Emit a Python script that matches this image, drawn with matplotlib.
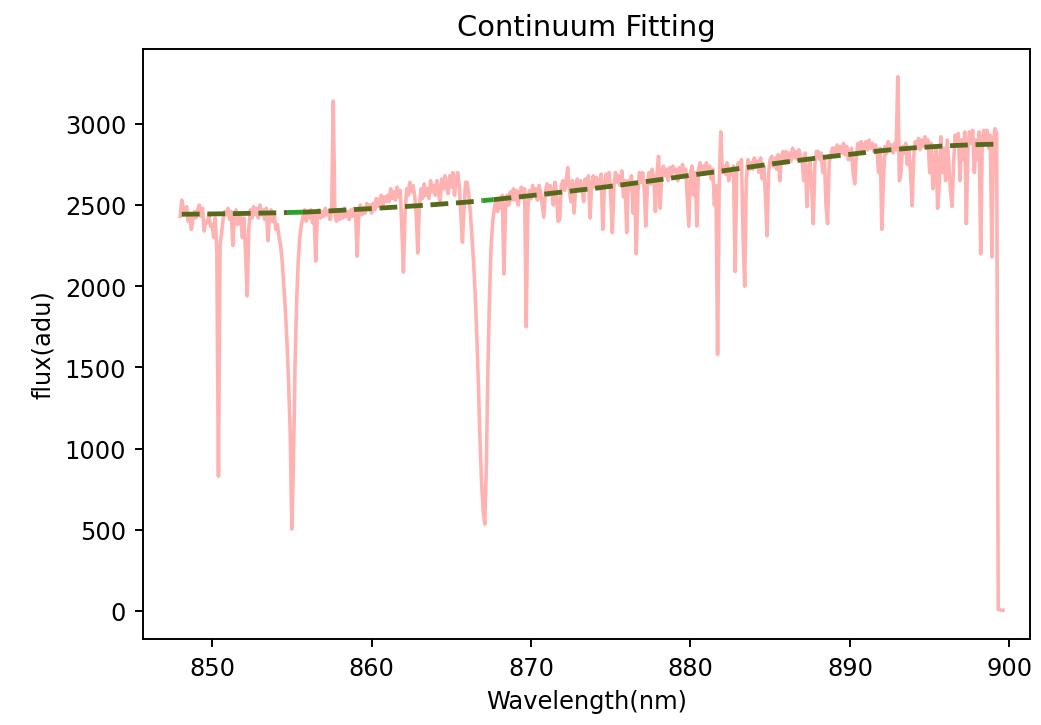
import numpy as np
import matplotlib
matplotlib.use("Agg")
import matplotlib.pyplot as plt

wl_start = 848.0
wl_step = 0.1
flux_rows = [
    [2430, 2530, 2470, 2450, 2490, 2400, 2445, 2350, 2410, 2460],  # 848
    [2420, 2470, 2500, 2430, 2480, 2340, 2400, 2390, 2440, 2370],  # 849
    [2380, 2300, 2420, 2200, 830, 2250, 2330, 2420, 2460, 2440],   # 850
    [2480, 2410, 2460, 2250, 2440, 2470, 2380, 2450, 2420, 2300],  # 851
    [2420, 2200, 1940, 2350, 2470, 2420, 2490, 2440, 2480, 2420],  # 852
    [2500, 2440, 2470, 2410, 2480, 2280, 2430, 2470, 2400, 2440],  # 853
    [2350, 2380, 2300, 2250, 2150, 2000, 1850, 1650, 1400, 1100],  # 854
    [505, 900, 1500, 1900, 2150, 2300, 2380, 2430, 2470, 2400],    # 855
    [2460, 2420, 2470, 2390, 2440, 2155, 2430, 2470, 2420, 2460],  # 856
    [2430, 2480, 2440, 2460, 2410, 2470, 3140, 2450, 2400, 2450],  # 857
    [2410, 2470, 2420, 2480, 2430, 2460, 2410, 2470, 2430, 2480],  # 858
    [2440, 2185, 2450, 2500, 2440, 2480, 2450, 2510, 2470, 2500],  # 859
    [2450, 2510, 2470, 2540, 2490, 2530, 2560, 2500, 2550, 2520],  # 860
    [2560, 2520, 2600, 2540, 2580, 2530, 2610, 2550, 2590, 2360],  # 861
    [2087, 2450, 2600, 2560, 2640, 2580, 2620, 2560, 2450, 2205],  # 862
    [2500, 2600, 2540, 2630, 2560, 2600, 2540, 2650, 2580, 2620],  # 863
    [2560, 2650, 2580, 2520, 2660, 2600, 2680, 2610, 2570, 2680],  # 864
    [2610, 2700, 2560, 2640, 2700, 2620, 2450, 2270, 2480, 2640],  # 865
    [2640, 2560, 2450, 2300, 2150, 1950, 1700, 1400, 1050, 800],   # 866
    [620, 535, 900, 1500, 1950, 2250, 2400, 2480, 2530, 2460],     # 867
    [2540, 2480, 2560, 2075, 2470, 2560, 2500, 2580, 2530, 2600],  # 868
    [2530, 2590, 2500, 2570, 2610, 2540, 2600, 1750, 2480, 2590],  # 869
    [2540, 2620, 2560, 2600, 2530, 2620, 2580, 2500, 2425, 2580],  # 870
    [2630, 2560, 2620, 2590, 2500, 2640, 2580, 2400, 2410, 2620],  # 871
    [2650, 2590, 2640, 2730, 2600, 2520, 2650, 2450, 2600, 2660],  # 872
    [2590, 2650, 2600, 2520, 2660, 2610, 2680, 2420, 2620, 2680],  # 873
    [2610, 2670, 2640, 2600, 2690, 2350, 2610, 2690, 2640, 2700],  # 874
    [2550, 2330, 2620, 2700, 2640, 2680, 2620, 2710, 2550, 2650],  # 875
    [2330, 2650, 2600, 2680, 2450, 2640, 2200, 2580, 2700, 2640],  # 876
    [2700, 2600, 2370, 2620, 2700, 2630, 2720, 2660, 2460, 2690],  # 877
    [2800, 2480, 2690, 2740, 2680, 2720, 2650, 2730, 2680, 2740],  # 878
    [2700, 2720, 2650, 2730, 2680, 2750, 2690, 2720, 2550, 2370],  # 879
    [2700, 2740, 2560, 2700, 2370, 2720, 2760, 2700, 2740, 2690],  # 880
    [2760, 2700, 2740, 2660, 2720, 2500, 2620, 1580, 2600, 2950],  # 881
    [2700, 2740, 2690, 2760, 2650, 2720, 2690, 2740, 2090, 2700],  # 882
    [2760, 2720, 2780, 2300, 2000, 2650, 2780, 2720, 2760, 2720],  # 883
    [2790, 2730, 2770, 2700, 2790, 2660, 2740, 2560, 2310, 2700],  # 884
    [2780, 2800, 2740, 2790, 2720, 2810, 2650, 2790, 2830, 2760],  # 885
    [2830, 2760, 2820, 2770, 2850, 2790, 2830, 2780, 2840, 2800],  # 886
    [2780, 2650, 2820, 2490, 2700, 2780, 2600, 2385, 2750, 2830],  # 887
    [2830, 2780, 2820, 2700, 2790, 2500, 2385, 2760, 2810, 2850],  # 888
    [2850, 2800, 2870, 2810, 2860, 2820, 2880, 2810, 2860, 2780],  # 889
    [2780, 2850, 2700, 2630, 2800, 2880, 2830, 2890, 2840, 2870],  # 890
    [2890, 2840, 2900, 2850, 2880, 2830, 2870, 2830, 2700, 2850],  # 891
    [2350, 2650, 2860, 2820, 2890, 2840, 2870, 2820, 2880, 2840],  # 892
    [3290, 2650, 2700, 2860, 2820, 2880, 2750, 2830, 2700, 2495],  # 893
    [2800, 2890, 2850, 2910, 2840, 2900, 2860, 2920, 2850, 2900],  # 894
    [2700, 2880, 2600, 2750, 2850, 2480, 2620, 2920, 2700, 2850],  # 895
    [2650, 2900, 2750, 2600, 2490, 2750, 2930, 2870, 2940, 2650],  # 896
    [2900, 2780, 2950, 2385, 2850, 2950, 2880, 2960, 2700, 2900],  # 897
    [2780, 2950, 2200, 2900, 2960, 2880, 2960, 2850, 2930, 2180],  # 898
    [2900, 2970, 2940, 10, 8, 5, 5],                               # 899
]

# fitted continuum
fit_wavelength = [848.1, 850, 852, 854, 854.75, 855.7, 856, 858, 860, 862, 864, 866,
                  866.95, 867.65, 868, 870, 872, 874, 876, 878, 880, 882, 884, 886,
                  888, 890, 892, 894, 896, 898, 899.4]
fit_flux = [2443, 2445, 2448, 2452, 2454, 2456, 2457, 2467, 2478, 2490, 2503, 2518,
            2527, 2533, 2537, 2558, 2580, 2603, 2628, 2655, 2683, 2710, 2738, 2765,
            2790, 2812, 2835, 2852, 2864, 2872, 2875]
# line regions masked out of the fit
masked = [(854.75, 855.7), (866.95, 867.65)]

flux = np.concatenate([np.array(r, dtype=float) for r in flux_rows])
wavelength = wl_start + wl_step * np.arange(len(flux))
fw = np.array(fit_wavelength)
ff = np.array(fit_flux)

fig = plt.figure(figsize=(6.0, 4.184), dpi=173.5)
ax = fig.add_axes([0.1374, 0.1185, 0.852, 0.8126])

ax.plot(wavelength, flux, color='red', alpha=0.3, lw=1.5)

# fit outside the masked regions
edges = [fw[0]] + [v for m in masked for v in m] + [fw[-1]]
for lo, hi in zip(edges[0::2], edges[1::2]):
    sel = (fw >= lo) & (fw <= hi)
    ax.plot(fw[sel], ff[sel], '--', color='#566a1c', lw=2)
# fit inside the masked regions
for lo, hi in masked:
    sel = (fw >= lo) & (fw <= hi)
    ax.plot(fw[sel], ff[sel], '--', color='#2ca02c', lw=2)

ax.set_xlim(845.67, 901.29)
ax.set_ylim(-172, 3460)
ax.set_title('Continuum Fitting')
ax.set_xlabel('Wavelength(nm)')
ax.set_ylabel('flux(adu)')

fig.savefig('out.png', dpi=173.5)
